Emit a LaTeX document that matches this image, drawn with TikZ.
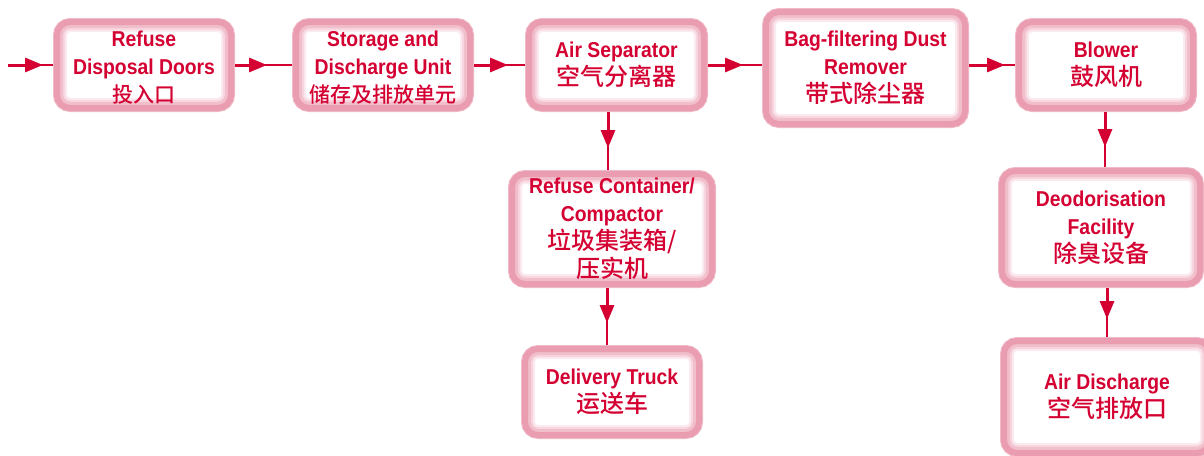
\documentclass[tikz,border=0pt]{standalone}
\usepackage{fontspec}
\setmainfont{Liberation Sans}[FakeStretch=0.9]
\newfontfamily\cjk{Noto Sans CJK SC Medium}
\usetikzlibrary{arrows.meta,calc}
\definecolor{txtred}{RGB}{213,0,50}
\definecolor{linered}{RGB}{213,0,50}
\definecolor{pinkdark}{RGB}{234,156,176}
\definecolor{pinkout}{RGB}{240,186,200}
\definecolor{fadeA}{RGB}{241,190,204}
\definecolor{fadeB}{RGB}{247,214,223}
\definecolor{fadeC}{RGB}{251,235,240}
\tikzset{
  stage/.style={rounded corners=13pt, fill=white, draw=pinkdark, line width=6pt,
    outer sep=4pt, inner sep=0pt,
    preaction={draw=pinkout, line width=8pt},
    path picture={
      \draw[fadeC, line width=20pt, rounded corners=13pt]
        (path picture bounding box.south west) rectangle (path picture bounding box.north east);
      \draw[fadeB, line width=16pt, rounded corners=13pt]
        (path picture bounding box.south west) rectangle (path picture bounding box.north east);
      \draw[fadeA, line width=12pt, rounded corners=13pt]
        (path picture bounding box.south west) rectangle (path picture bounding box.north east);
    },
    text=txtred, align=center,
    font=\fontsize{21.5}{28}\selectfont\bfseries},
  flow/.style={draw=linered, line width=1.5pt},
  flowhead/.style={draw=linered, line width=3pt, -{Triangle[length=18pt,width=14pt]}}
}
\newcommand{\zh}[2][24]{{\cjk\mdseries\fontsize{#1}{28}\selectfont #2}}
\begin{document}
\begin{tikzpicture}[x=1pt,y=-1pt]
\useasboundingbox (0,0) rectangle (1204,455);
\clip (0,0) rectangle (1204,455);

\node[stage, minimum width=174pt, minimum height=86pt] (s1) at (144,65) {\rule{0pt}{21pt}Refuse\\Disposal Doors\\\zh[21]{投入口}};
\node[stage, minimum width=174pt, minimum height=86pt] (s2) at (383,65) {\rule{0pt}{21pt}Storage and\\Discharge Unit\\\zh[21]{储存及排放单元}};
\node[stage, minimum width=175pt, minimum height=86pt] (s3) at (616.5,65) {Air Separator\\\zh{空气分离器}};
\node[stage, minimum width=199pt, minimum height=112pt] (s4) at (865.5,68) {Bag-filtering Dust\\Remover\\\zh{带式除尘器}};
\node[stage, minimum width=174pt, minimum height=86pt] (s5) at (1106,65) {Blower\\\zh{鼓风机}};
\node[stage, minimum width=200pt, minimum height=110pt] (s6) at (612,229) {Refuse Container/\\Compactor\\\zh{垃圾集装箱/}\\\zh{压实机}};
\node[stage, minimum width=174pt, minimum height=86pt] (s7) at (612,392) {Delivery Truck\\\zh{运送车}};
\node[stage, minimum width=198pt, minimum height=113pt] (s8) at (1101,227.5) {Deodorisation\\Facility\\\zh{除臭设备}};
\node[stage, minimum width=206pt, minimum height=112pt] (s9) at (1107,397) {Air Discharge\\\zh{空气排放口}};

\coordinate (in) at (8,65);

% horizontal connectors
\draw[flow] (in) -- (s1.west);
\draw[flowhead] (in) -- ++(35,0);
\draw[flow] (s1.east) -- (s1.east -| s2.west);
\draw[flowhead] (s1.east) -- ++(32,0);
\draw[flow] (s2.east) -- (s2.east -| s3.west);
\draw[flowhead] (s2.east) -- ++(34,0);
\draw[flow] (s3.east) -- (s3.east -| s4.west);
\draw[flowhead] (s3.east) -- ++(35,0);
\draw[flow] (s4.east |- s5.east) -- (s5.west);
\draw[flowhead] (s4.east |- s5.east) -- ++(36,0);

% vertical connectors
\draw[flow] ([xshift=-8.5pt]s3.south) -- ([xshift=-8.5pt]s3.south |- s6.north);
\draw[flowhead] ([xshift=-8.5pt]s3.south) -- ++(0,36);
\draw[flow] ([xshift=-5pt]s6.south) -- ([xshift=-5pt]s6.south |- s7.north);
\draw[flowhead] ([xshift=-5pt]s6.south) -- ++(0,35);
\draw[flow] ([xshift=-1pt]s5.south) -- ([xshift=-1pt]s5.south |- s8.north);
\draw[flowhead] ([xshift=-1pt]s5.south) -- ++(0,35);
\draw[flow] ([xshift=6pt]s8.south) -- ([xshift=6pt]s8.south |- s9.north);
\draw[flowhead] ([xshift=6pt]s8.south) -- ++(0,31);
\end{tikzpicture}
\end{document}
